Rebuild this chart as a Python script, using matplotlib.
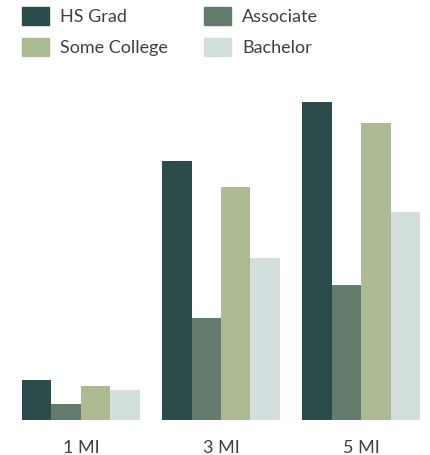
import matplotlib
matplotlib.use("Agg")
import matplotlib.pyplot as plt
import numpy as np
from matplotlib.patches import Rectangle

# Education attainment by radius
radii = ["1 MI", "3 MI", "5 MI"]
series = ["HS Grad", "Associate", "Some College", "Bachelor"]
hs_grad = [400, 2590, 3180]
associate = [160, 1020, 1350]
some_college = [340, 2330, 2970]
bachelor = [300, 1620, 2080]
colors = ["#2c4c4b", "#647c6b", "#acbb93", "#d3dfdd"]

plt.rcParams["font.family"] = ["Lato", "DejaVu Sans"]
text_color = "#404040"

W, H = 430, 456
fig = plt.figure(figsize=(W / 100, H / 100), dpi=100)
ax = fig.add_axes([22 / W, (H - 421) / H, 398 / W, 318 / H])

x = np.arange(len(radii))
width = 0.21
values = [hs_grad, associate, some_college, bachelor]
for i, (vals, col) in enumerate(zip(values, colors)):
    ax.bar(x + (i - 1.5) * width, vals, width, color=col, linewidth=0)

ax.set_xlim(-0.42, 2.42)
ax.set_ylim(0, max(hs_grad))
ax.set_xticks(x)
ax.set_xticklabels(radii, fontsize=13, color=text_color)
ax.tick_params(axis="x", length=0, pad=14)
ax.set_yticks([])
for s in ax.spines.values():
    s.set_visible(False)

# Legend laid out in two rows of two
legend_pos = [(22, 8), (204, 8), (22, 39), (204, 39)]
for name, col, (lx, ly) in zip(series, colors, legend_pos):
    fig.patches.append(Rectangle((lx / W, 1 - (ly + 18) / H), 27 / W, 18 / H,
                                 transform=fig.transFigure, color=col))
    fig.text((lx + 38) / W, 1 - (ly + 9) / H, name, fontsize=13,
             color=text_color, va="center", ha="left")

fig.savefig("out.png", dpi=100)
